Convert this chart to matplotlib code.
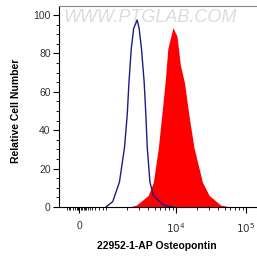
import matplotlib
matplotlib.use("Agg")
import matplotlib.pyplot as plt
import numpy as np

# x positions in "display decades" (10^3 at 3, 10^4 at 4, 10^5 at 5; 0 at ~2.62)
blue_x = [3.00, 3.097, 3.193, 3.265, 3.304, 3.329, 3.362, 3.396, 3.445, 3.474, 3.507, 3.546, 3.570, 3.590, 3.628, 3.677, 3.822, 3.967]
blue_y = [0, 2.8, 13, 31, 48, 65, 82.6, 93, 97.4, 93, 82.6, 65, 48, 31, 13, 6, 1, 0]

red_x = [3.333, 3.435, 3.604, 3.677, 3.749, 3.797, 3.845, 3.884, 3.957, 4.014, 4.062, 4.120, 4.184, 4.257, 4.377, 4.474, 4.638, 4.783]
red_y = [0, 1, 6, 13, 31, 48, 65, 82.6, 93.4, 89, 74, 65, 48, 31, 13, 6, 1, 0]

x_ticks = [2.62, 4, 5]
x_ticklabels = ["0", "$10^4$", "$10^5$"]
y_ticks = [0, 20, 40, 60, 80, 100]

plt.rcParams['font.family'] = ['Liberation Sans', 'DejaVu Sans']
fig = plt.figure(figsize=(2.57, 2.58), dpi=100)
ax = fig.add_axes([59/257, 51/258, 1.02 - 59/257, (258-6-51)/258])

ax.fill_between(red_x, red_y, 0, color='#ff0000', linewidth=0, zorder=2)
ax.plot(blue_x, blue_y, color='#1c1c8a', linewidth=1.0, zorder=3)

ax.set_xlim(2.33, 5.23)
ax.set_ylim(0, 104.7)

ax.set_xticks(x_ticks)
ax.set_xticklabels(x_ticklabels)
ax.set_yticks(y_ticks)

# minor ticks
minor_x = []
for d in [3, 4]:
    for k in range(2, 10):
        minor_x.append(d + np.log10(k))
minor_x += [3.0]
for k in [3, 4, 5, 6, 7, 8, 9]:
    minor_x.append(2 + np.log10(k))
for off in [0.02, 0.04, 0.06, 0.09, 0.13, 0.18]:
    minor_x += [2.62 - off, 2.62 + off]
ax.set_xticks(minor_x, minor=True)
ax.set_yticks(np.arange(0, 105, 5), minor=True)

ax.tick_params(axis='both', which='major', direction='out', length=4, width=0.8,
               labelsize=7.5, labelcolor='#333333', pad=2)
ax.tick_params(axis='both', which='minor', direction='out', length=2, width=0.6)
ax.tick_params(axis='x', which='major', pad=6)

for s in ['right']:
    ax.spines[s].set_visible(False)
ax.spines['top'].set_color('#888888')
ax.spines['left'].set_linewidth(0.8)
ax.spines['bottom'].set_linewidth(0.8)

ax.set_ylabel("Relative Cell Number", fontsize=7.5, fontweight='bold')
ax.yaxis.set_label_coords(-0.187, 0.48)
ax.set_xlabel("22952-1-AP Osteopontin", fontsize=7.5, fontweight='bold')
ax.xaxis.set_label_coords((157-59)/(1.02*257-59), -0.17)

ax.text(0.02, 0.985, "WWW.PTGLAB.COM", transform=ax.transAxes, fontsize=13,
        fontstyle='italic', color='#dcdcdc', ha='left', va='top', zorder=1)

fig.savefig("out.png", dpi=100)
